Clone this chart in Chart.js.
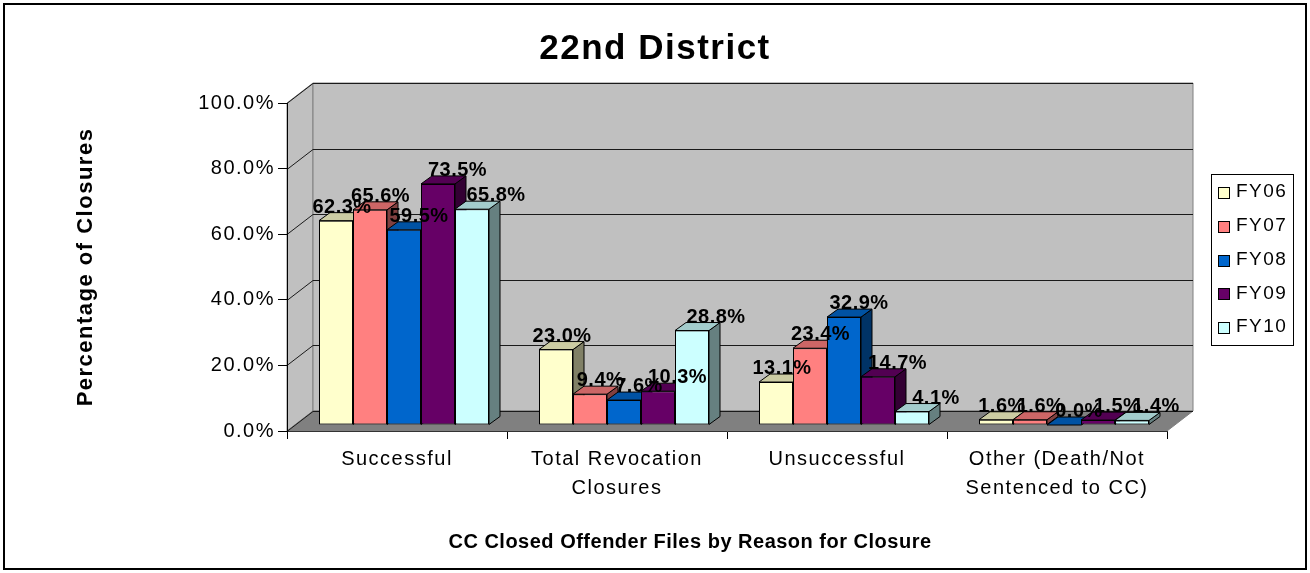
<!DOCTYPE html>
<html>
<head>
<meta charset="utf-8">
<script src="https://cdn.jsdelivr.net/npm/chart.js@4.4.1/dist/chart.umd.min.js"></script>
<style>
    html, body { margin: 0; padding: 0; background: #fff; }
    #wrap { width: 1310px; height: 573px; }
</style>
</head>
<body>
<div id="wrap"><canvas id="chart" width="1310" height="573"></canvas></div>
<script>
const categories = [
    'Successful',
    ['Total Revocation', 'Closures'],
    'Unsuccessful',
    ['Other (Death/Not', 'Sentenced to CC)']
];
const seriesNames = ['FY06', 'FY07', 'FY08', 'FY09', 'FY10'];
const fy06 = [62.3, 23.0, 13.1, 1.6];
const fy07 = [65.6, 9.4, 23.4, 1.6];
const fy08 = [59.5, 7.6, 32.9, 0.0];
const fy09 = [73.5, 10.3, 14.7, 1.5];
const fy10 = [65.8, 28.8, 4.1, 1.4];
const yTicks = [0, 20, 40, 60, 80, 100];

const seriesValues = [fy06, fy07, fy08, fy09, fy10];
const seriesColors = ['#ffffcc', '#ff8080', '#0066cc', '#660066', '#ccffff'];

const FONT = '"Liberation Sans", Arial, sans-serif';

// fake 3d: wall depth, bar plane offset, bar depth
const WALL_DX = 26, WALL_DY = -20;
const BAR_X = 7, BAR_Y = -6;
const BAR_DX = 11, BAR_DY = -8;

function shade(hex, f) {
    const n = parseInt(hex.slice(1), 16);
    const r = Math.round(((n >> 16) & 255) * f);
    const g = Math.round(((n >> 8) & 255) * f);
    const b = Math.round((n & 255) * f);
    return 'rgb(' + r + ',' + g + ',' + b + ')';
}

function poly(ctx, pts, fill, stroke) {
    ctx.beginPath();
    ctx.moveTo(pts[0][0], pts[0][1]);
    for (let i = 1; i < pts.length; i++) {
        ctx.lineTo(pts[i][0], pts[i][1]);
    }
    ctx.closePath();
    if (fill) {
        ctx.fillStyle = fill;
        ctx.fill();
    }
    if (stroke) {
        ctx.strokeStyle = stroke;
        ctx.lineWidth = 1;
        ctx.stroke();
    }
}

function barBox(chart, di, j) {
    const el = chart.getDatasetMeta(di).data[j];
    const p = el.getProps(['x', 'y', 'base', 'width'], true);
    return {
        left: p.x - p.width / 2,
        right: p.x + p.width / 2,
        top: Math.min(p.y, p.base),
        bottom: Math.max(p.y, p.base),
        cx: p.x
    };
}

const excel3d = {
    id: 'excel3d',
    beforeDraw(chart) {
        const ctx = chart.ctx;
        const a = chart.chartArea;
        const ys = chart.scales.y;
        const L = a.left, R = a.right, T = a.top, B = a.bottom;

        ctx.save();
        ctx.fillStyle = '#fff';
        ctx.fillRect(0, 0, chart.width, chart.height);

        // outer frame
        ctx.strokeStyle = '#000';
        ctx.lineWidth = 2;
        ctx.strokeRect(4, 4, 1302, 565);

        // side wall, back wall, floor
        poly(ctx, [[L, T], [L + WALL_DX, T + WALL_DY], [L + WALL_DX, B + WALL_DY], [L, B]], '#c0c0c0', '#808080');
        poly(ctx, [[L + WALL_DX, T + WALL_DY], [R + WALL_DX, T + WALL_DY], [R + WALL_DX, B + WALL_DY], [L + WALL_DX, B + WALL_DY]], '#c0c0c0', '#808080');
        poly(ctx, [[L, B], [L + WALL_DX, B + WALL_DY], [R + WALL_DX, B + WALL_DY], [R, B]], '#808080', '#808080');

        // gridlines on the walls
        ctx.strokeStyle = '#1a1a1a';
        ctx.lineWidth = 1;
        yTicks.forEach(function (v) {
            const py = Math.round(ys.getPixelForValue(v)) + 0.5;
            ctx.beginPath();
            ctx.moveTo(L, py);
            ctx.lineTo(L + WALL_DX, py + WALL_DY);
            ctx.lineTo(R + WALL_DX, py + WALL_DY);
            ctx.stroke();
        });
        ctx.restore();

        ctx.letterSpacing = '1.5px';
    },
    beforeDatasetsDraw(chart) {
        const ctx = chart.ctx;
        ctx.save();
        ctx.translate(BAR_X, BAR_Y);

        // sides first, then tops, fronts come from chart.js
        seriesValues.forEach(function (vals, di) {
            vals.forEach(function (v, j) {
                const b = barBox(chart, di, j);
                poly(ctx, [[b.right, b.top], [b.right + BAR_DX, b.top + BAR_DY], [b.right + BAR_DX, b.bottom + BAR_DY], [b.right, b.bottom]],
                    shade(seriesColors[di], 0.5), '#000');
            });
        });
        seriesValues.forEach(function (vals, di) {
            vals.forEach(function (v, j) {
                const b = barBox(chart, di, j);
                poly(ctx, [[b.left, b.top], [b.right, b.top], [b.right + BAR_DX, b.top + BAR_DY], [b.left + BAR_DX, b.top + BAR_DY]],
                    shade(seriesColors[di], 0.8), '#000');
            });
        });
    },
    afterDatasetsDraw(chart) {
        const ctx = chart.ctx;
        ctx.restore();

        // value labels
        ctx.save();
        ctx.font = 'bold 20px ' + FONT;
        ctx.letterSpacing = '0.5px';
        ctx.fillStyle = '#000';
        ctx.textAlign = 'center';
        ctx.textBaseline = 'alphabetic';
        seriesValues.forEach(function (vals, di) {
            vals.forEach(function (v, j) {
                const b = barBox(chart, di, j);
                const x = b.cx + BAR_X + 6 + 4.5 * di;
                const y = b.top + BAR_Y + BAR_DY;
                ctx.fillText(v.toFixed(1) + '%', x, y);
            });
        });
        ctx.restore();
    },
    afterDraw(chart) {
        const ctx = chart.ctx;
        ctx.save();

        // x axis title
        ctx.font = 'bold 20px ' + FONT;
        ctx.letterSpacing = '0.5px';
        ctx.fillStyle = '#000';
        ctx.textAlign = 'center';
        ctx.textBaseline = 'middle';
        ctx.fillText('CC Closed Offender Files by Reason for Closure', 690, 542);

        // legend
        ctx.fillStyle = '#fff';
        ctx.fillRect(1211, 174, 82, 171);
        ctx.strokeStyle = '#000';
        ctx.lineWidth = 1;
        ctx.strokeRect(1211.5, 174.5, 82, 171);
        ctx.font = '19px ' + FONT;
        ctx.letterSpacing = '1.5px';
        ctx.textAlign = 'left';
        seriesNames.forEach(function (name, i) {
            const cy = 192 + 33.8 * i;
            ctx.fillStyle = seriesColors[i];
            ctx.fillRect(1218, Math.round(cy) - 5, 11, 11);
            ctx.strokeRect(1218.5, Math.round(cy) - 4.5, 11, 11);
            ctx.fillStyle = '#000';
            ctx.fillText(name, 1236, cy);
        });
        ctx.restore();
    }
};

const datasets = seriesNames.map(function (name, i) {
    return {
        label: name,
        data: seriesValues[i],
        backgroundColor: seriesColors[i],
        borderColor: '#000',
        borderWidth: 1,
        borderSkipped: false,
        clip: false
    };
});

new Chart(document.getElementById('chart'), {
    type: 'bar',
    data: {
        labels: categories,
        datasets: datasets
    },
    options: {
        responsive: false,
        animation: false,
        devicePixelRatio: 1,
        categoryPercentage: 170 / 220,
        barPercentage: 1,
        layout: { padding: 0 },
        plugins: {
            legend: { display: false },
            tooltip: { enabled: false },
            title: {
                display: true,
                text: '22nd District',
                color: '#000',
                font: { family: FONT, size: 35, weight: 'bold' },
                padding: { top: 28, bottom: 33 }
            }
        },
        scales: {
            x: {
                grid: {
                    offset: true,
                    drawOnChartArea: false,
                    drawTicks: true,
                    tickLength: 8,
                    color: '#000'
                },
                border: { color: '#333' },
                ticks: {
                    color: '#000',
                    font: { family: FONT, size: 20, lineHeight: 1.45 },
                    padding: 6,
                    maxRotation: 0,
                    autoSkip: false
                },
                afterFit: function (s) { s.height = 142; }
            },
            y: {
                min: 0,
                max: 100,
                afterBuildTicks: function (s) {
                    s.ticks = yTicks.map(function (v) { return { value: v }; });
                },
                ticks: {
                    color: '#000',
                    font: { family: FONT, size: 20 },
                    padding: 3,
                    callback: function (v) { return Number(v).toFixed(1) + '%'; }
                },
                grid: {
                    drawOnChartArea: false,
                    drawTicks: true,
                    tickLength: 9,
                    color: '#000'
                },
                border: { color: '#000' },
                title: {
                    display: true,
                    text: 'Percentage of Closures',
                    color: '#000',
                    font: { family: FONT, size: 22, weight: 'bold' },
                    padding: { top: 73, bottom: 0 }
                },
                afterFit: function (s) { s.width = 287; }
            },
            // empty box on the right, keeps room for the legend
            spacer: {
                type: 'linear',
                position: 'right',
                display: true,
                grid: { display: false },
                border: { display: false },
                ticks: { display: false },
                afterFit: function (s) { s.width = 143; }
            }
        }
    },
    plugins: [excel3d]
});
</script>
</body>
</html>
